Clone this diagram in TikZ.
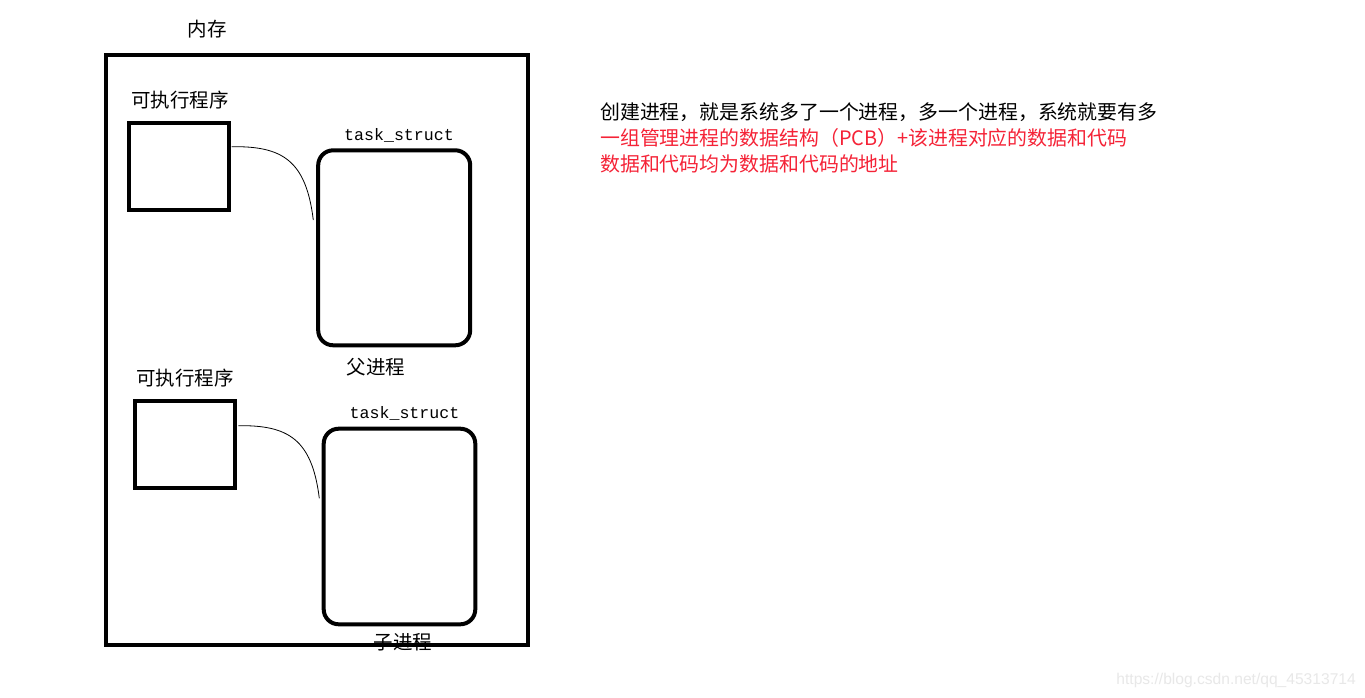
\documentclass[tikz,border=0pt]{standalone}
\usepackage{fontspec}
\setmainfont{Noto Sans CJK SC}
\newfontfamily\cjk{Noto Sans CJK SC}
\newfontfamily\monofnt{Liberation Mono}
\newfontfamily\wmfont{Liberation Sans}
\definecolor{redtext}{RGB}{245,35,55}
\definecolor{wmgray}{RGB}{232,232,232}
\begin{document}
\begin{tikzpicture}[x=1pt,y=-1pt,
  memorybox/.style={draw,line width=4pt,minimum width=422pt,minimum height=590pt,inner sep=0pt},
  progbox/.style={draw,line width=4pt,minimum width=100pt,minimum height=87pt,inner sep=0pt},
  taskbox/.style={draw,line width=4pt,rounded corners=15pt,minimum width=152pt,minimum height=195pt,inner sep=0pt},
  cnlabel/.style={font=\cjk\fontsize{19.5}{21}\selectfont,inner sep=0pt},
  monolabel/.style={font=\monofnt\fontsize{16.6}{18}\selectfont,inner sep=0pt},
  note/.style={font=\cjk\fontsize{19.9}{22}\selectfont,inner sep=0pt,anchor=west},
  link/.style={line width=0.8pt}]
\useasboundingbox (0,0) rectangle (1365,698);
\fill[white] (0,0) rectangle (1365,698);
% memory
\node[memorybox] (mem) at (317,350) {};
\node[cnlabel] (memlabel) at (207,29) {内存};
% parent
\node[progbox] (prog1) at (178.7,166.7) {};
\node[cnlabel] (prog1label) at (180,100) {可执行程序};
\node[taskbox] (task1) at (394.2,247.8) {};
\node[monolabel] (task1label) at (399,135) {task\_struct};
\node[cnlabel] (parentlabel) at (376,367) {父进程};
\coordinate (l1a) at (231.7,146.7);
\coordinate (l1b) at (313.3,220);
\draw[link] (l1a) .. controls (282,146) and (306,160) .. (l1b);
% child
\node[progbox] (prog2) at (184.5,444.6) {};
\node[cnlabel] (prog2label) at (185,378) {可执行程序};
\node[taskbox,minimum width=151.6pt,minimum height=195.6pt] (task2) at (399.5,526.5) {};
\node[monolabel] (task2label) at (404.5,413) {task\_struct};
\node[cnlabel] (childlabel) at (403,642) {子进程};
\coordinate (l2a) at (238.3,425.7);
\coordinate (l2b) at (319.3,498.3);
\draw[link] (l2a) .. controls (288,425) and (312,439) .. (l2b);
% notes
\node[note] (note1) at (600,112) {创建进程，就是系统多了一个进程，多一个进程，系统就要有多};
\node[note,text=redtext] (note2) at (600,138) {一组管理进程的数据结构（PCB）+该进程对应的数据和代码};
\node[note,text=redtext] (note3) at (600,164) {数据和代码均为数据和代码的地址};
% watermark
\node[font=\wmfont\fontsize{15.6}{17}\selectfont,text=wmgray,inner sep=0pt,anchor=east] (wm) at (1356,680) {https://blog.csdn.net/qq\_45313714};
\end{tikzpicture}
\end{document}
